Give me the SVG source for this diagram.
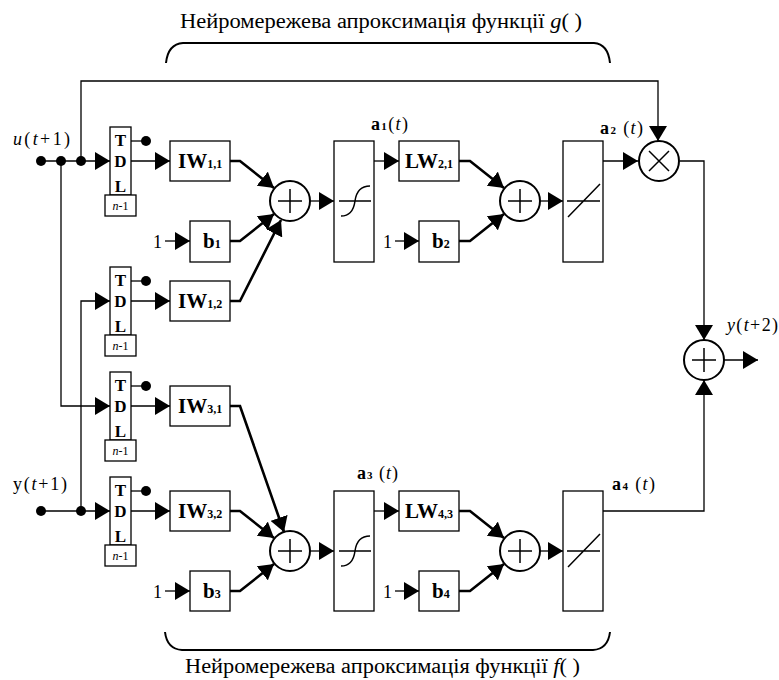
<svg xmlns="http://www.w3.org/2000/svg" width="779" height="680" viewBox="0 0 779 680" font-family="'Liberation Serif', 'DejaVu Serif', serif">
<style>
text{font-family:'Liberation Serif','DejaVu Serif',serif;fill:#000}
.box{fill:#fff;stroke:#000;stroke-width:1.3}
.circ{fill:#fff;stroke:#000;stroke-width:2}
.sym{fill:none;stroke:#000;stroke-width:1.5}
.ln{fill:none;stroke:#000;stroke-width:1.3}
.dg{fill:none;stroke:#000;stroke-width:2.6}
.arr{marker-end:url(#ah)}
.tdl{font-weight:bold;font-size:17px;text-anchor:middle}
.nm{font-size:12px;text-anchor:middle}
.bw{font-weight:bold;font-size:21px}
.sub{font-size:12px;font-weight:bold}
.lab{font-size:18px}
.alab{font-size:18px}
.title{font-size:20px}
.brace{fill:none;stroke:#000;stroke-width:2}
</style>
<defs>
<marker id="ah" viewBox="0 0 15 18" refX="15" refY="9" markerWidth="15" markerHeight="18" orient="auto" markerUnits="userSpaceOnUse">
<path d="M0,0 L15,9 L0,18 Z" fill="#000"/>
</marker>
</defs>

<g id="connectors">
<path class="ln arr" d="M41,161 H110"/>
<path class="ln arr" d="M81,161 V81 H658 V141"/>
<path class="ln arr" d="M61,161 V406 H110"/>
<path class="ln arr" d="M41,511 H110"/>
<path class="ln arr" d="M81,511 V301 H110"/>
<path class="ln arr" d="M131,161 H170"/>
<path class="ln arr" d="M131,301 H170"/>
<path class="ln arr" d="M131,406 H170"/>
<path class="ln arr" d="M131,511 H170"/>
<path class="ln" d="M131,141 H146"/>
<path class="ln" d="M131,281 H146"/>
<path class="ln" d="M131,386 H146"/>
<path class="ln" d="M131,491 H146"/>
<path class="ln arr" d="M165,241 H190"/>
<path class="ln arr" d="M165,591 H190"/>
<path class="ln arr" d="M395,241 H419"/>
<path class="ln arr" d="M395,591 H419"/>
<path class="dg arr" d="M230,161 H240 L274,188"/>
<path class="dg arr" d="M230,241 H240 L274,214"/>
<path class="dg arr" d="M230,301 H240 L281,220"/>
<path class="dg arr" d="M230,406 H240 L284,532"/>
<path class="dg arr" d="M230,511 H240 L274,538"/>
<path class="dg arr" d="M230,591 H240 L274,564"/>
<path class="dg arr" d="M459,161 H470 L504,188"/>
<path class="dg arr" d="M459,241 H470 L504,214"/>
<path class="dg arr" d="M459,511 H470 L504,538"/>
<path class="dg arr" d="M459,591 H470 L504,564"/>
<path class="ln arr" d="M310,201 H334"/>
<path class="ln arr" d="M310,551 H334"/>
<path class="ln arr" d="M374,161 H399"/>
<path class="ln arr" d="M374,511 H399"/>
<path class="ln arr" d="M540,201 H563"/>
<path class="ln arr" d="M540,551 H563"/>
<path class="ln arr" d="M603,161 H638"/>
<path class="ln arr" d="M680,161 H704 V340"/>
<path class="ln arr" d="M603,511 H704 V380"/>
<path class="ln arr" d="M724,360 H758"/>
<circle cx="41" cy="161" r="5"/>
<circle cx="61" cy="161" r="5"/>
<circle cx="81" cy="161" r="5"/>
<circle cx="41" cy="511" r="5"/>
<circle cx="81" cy="511" r="5"/>
<circle cx="146" cy="141" r="5"/>
<circle cx="146" cy="281" r="5"/>
<circle cx="146" cy="386" r="5"/>
<circle cx="146" cy="491" r="5"/>
</g>

<g id="tdl1">
<rect class="box" x="110" y="127" width="21" height="68"/>
<text class="tdl" x="120.5" y="146">T</text><text class="tdl" x="120.5" y="167">D</text><text class="tdl" x="120.5" y="192">L</text>
<rect class="box" x="105" y="195" width="31" height="21"/>
<text class="nm" x="120.5" y="210"><tspan font-style="italic">n</tspan>-1</text>
</g>
<g id="tdl2">
<rect class="box" x="110" y="267" width="21" height="68"/>
<text class="tdl" x="120.5" y="286">T</text><text class="tdl" x="120.5" y="307">D</text><text class="tdl" x="120.5" y="332">L</text>
<rect class="box" x="105" y="335" width="31" height="21"/>
<text class="nm" x="120.5" y="350"><tspan font-style="italic">n</tspan>-1</text>
</g>
<g id="tdl3">
<rect class="box" x="110" y="372" width="21" height="68"/>
<text class="tdl" x="120.5" y="391">T</text><text class="tdl" x="120.5" y="412">D</text><text class="tdl" x="120.5" y="437">L</text>
<rect class="box" x="105" y="440" width="31" height="21"/>
<text class="nm" x="120.5" y="455"><tspan font-style="italic">n</tspan>-1</text>
</g>
<g id="tdl4">
<rect class="box" x="110" y="477" width="21" height="68"/>
<text class="tdl" x="120.5" y="496">T</text><text class="tdl" x="120.5" y="517">D</text><text class="tdl" x="120.5" y="542">L</text>
<rect class="box" x="105" y="545" width="31" height="21"/>
<text class="nm" x="120.5" y="560"><tspan font-style="italic">n</tspan>-1</text>
</g>

<g id="iw11"><rect class="box" x="170" y="141" width="60" height="40"/><text class="bw" x="178" y="168">IW<tspan class="sub">1,1</tspan></text></g>
<g id="iw12"><rect class="box" x="170" y="281" width="60" height="40"/><text class="bw" x="178" y="308">IW<tspan class="sub">1,2</tspan></text></g>
<g id="iw31"><rect class="box" x="170" y="386" width="60" height="40"/><text class="bw" x="178" y="413">IW<tspan class="sub">3,1</tspan></text></g>
<g id="iw32"><rect class="box" x="170" y="491" width="60" height="40"/><text class="bw" x="178" y="518">IW<tspan class="sub">3,2</tspan></text></g>

<g id="b1"><rect class="box" x="190" y="221" width="40" height="41"/><text class="bw" x="203" y="248">b<tspan class="sub">1</tspan></text><text class="lab" x="153" y="248">1</text></g>
<g id="b3"><rect class="box" x="190" y="571" width="40" height="40"/><text class="bw" x="203" y="598">b<tspan class="sub">3</tspan></text><text class="lab" x="153" y="598">1</text></g>
<g id="b2"><rect class="box" x="419" y="221" width="40" height="41"/><text class="bw" x="432" y="248">b<tspan class="sub">2</tspan></text><text class="lab" x="383" y="248">1</text></g>
<g id="b4"><rect class="box" x="419" y="571" width="40" height="40"/><text class="bw" x="432" y="598">b<tspan class="sub">4</tspan></text><text class="lab" x="383" y="598">1</text></g>

<g id="sum1"><circle class="circ" cx="290" cy="201" r="20"/><path class="sym" d="M278,201 H302 M290,189 V213"/></g>
<g id="sum4"><circle class="circ" cx="290" cy="551" r="20"/><path class="sym" d="M278,551 H302 M290,539 V563"/></g>

<g id="tansig1"><rect class="box" x="334" y="141" width="40" height="121"/><path class="sym" d="M339,201 H371 M341,216 Q353,216 355,201 Q357,186 370,186"/></g>
<g id="tansig2"><rect class="box" x="334" y="491" width="40" height="120"/><path class="sym" d="M339,551 H371 M341,566 Q353,566 355,551 Q357,536 370,536"/></g>

<g id="lw21"><rect class="box" x="399" y="141" width="60" height="40"/><text class="bw" x="405" y="168">LW<tspan class="sub">2,1</tspan></text></g>
<g id="lw43"><rect class="box" x="399" y="491" width="60" height="40"/><text class="bw" x="405" y="518">LW<tspan class="sub">4,3</tspan></text></g>

<g id="sum2"><circle class="circ" cx="520" cy="201" r="20"/><path class="sym" d="M508,201 H532 M520,189 V213"/></g>
<g id="sum5"><circle class="circ" cx="520" cy="551" r="20"/><path class="sym" d="M508,551 H532 M520,539 V563"/></g>

<g id="purelin1"><rect class="box" x="563" y="141" width="40" height="121"/><path class="sym" d="M567,201 H600 M568,217 L600,184"/></g>
<g id="purelin2"><rect class="box" x="563" y="491" width="40" height="120"/><path class="sym" d="M567,551 H600 M568,567 L600,534"/></g>

<g id="mult"><circle class="circ" cx="659" cy="161" r="20"/><path class="sym" d="M649,151 L669,171 M649,171 L669,151"/></g>
<g id="sum3"><circle class="circ" cx="704" cy="360" r="20"/><path class="sym" d="M692,360 H716 M704,348 V372"/></g>

<g id="labels">
<text class="lab" x="13" y="145" textLength="57" lengthAdjust="spacing"><tspan font-style="italic">u</tspan>(<tspan font-style="italic">t</tspan>+1)</text>
<text class="lab" x="13" y="490" textLength="54" lengthAdjust="spacing">y(<tspan font-style="italic">t</tspan>+1)</text>
<text class="lab" x="727" y="331" font-size="16" textLength="51" lengthAdjust="spacing"><tspan font-style="italic">y</tspan>(<tspan font-style="italic">t</tspan>+2)</text>
<text class="alab" x="371" y="130" textLength="37" lengthAdjust="spacing"><tspan font-weight="bold">a</tspan><tspan font-size="11" font-weight="bold">1</tspan>(<tspan font-style="italic">t</tspan>)</text>
<text class="alab" x="600" y="134" textLength="43" lengthAdjust="spacing"><tspan font-weight="bold">a</tspan><tspan font-size="11" font-weight="bold">2</tspan> (<tspan font-style="italic">t</tspan>)</text>
<text class="alab" x="357" y="479" textLength="41" lengthAdjust="spacing"><tspan font-weight="bold">a</tspan><tspan font-size="11" font-weight="bold">3</tspan> (<tspan font-style="italic">t</tspan>)</text>
<text class="alab" x="612" y="490" textLength="43" lengthAdjust="spacing"><tspan font-weight="bold">a</tspan><tspan font-size="11" font-weight="bold">4</tspan> (<tspan font-style="italic">t</tspan>)</text>
</g>

<g id="brace-g">
<path class="brace" d="M166,63 Q168,44 183,43 L594,43 Q608,44 610,63"/>
<text class="title" x="180" y="28" textLength="402" lengthAdjust="spacingAndGlyphs">Нейромережева апроксимація функції <tspan font-style="italic">g</tspan>( )</text>
</g>
<g id="brace-f">
<path class="brace" d="M165,632 Q167,649 182,650 L593,650 Q608,649 610,632"/>
<text class="title" x="185" y="673" textLength="395" lengthAdjust="spacingAndGlyphs">Нейромережева апроксимація функції <tspan font-style="italic">f</tspan>( )</text>
</g>
</svg>
